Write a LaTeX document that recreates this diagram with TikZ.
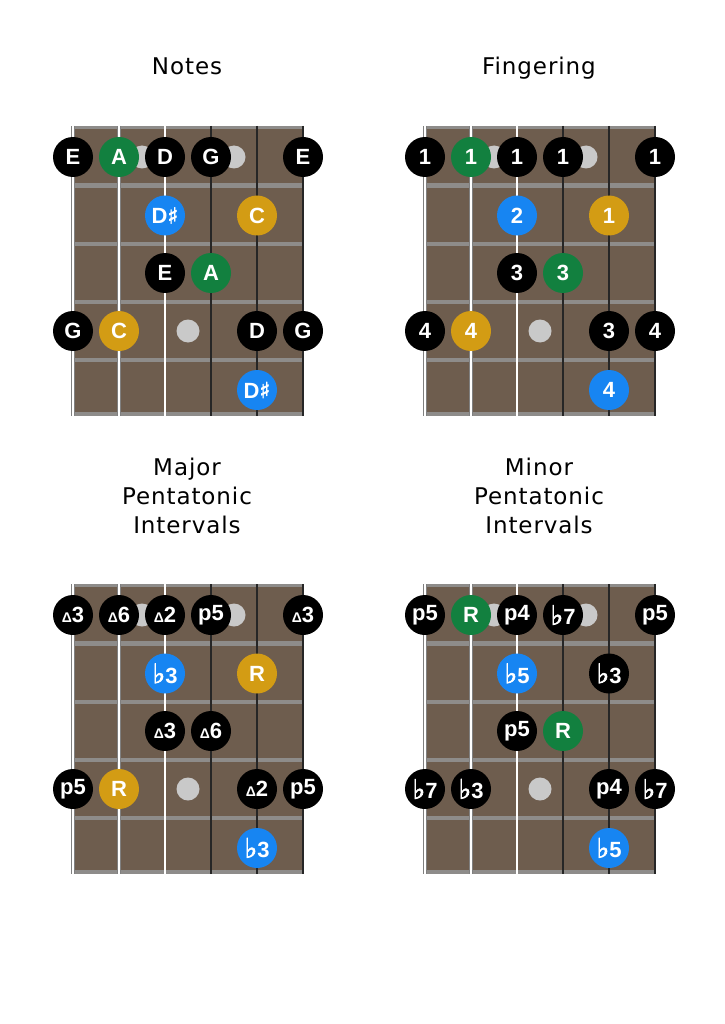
\documentclass[tikz,border=0pt]{standalone}
\usepackage{fontspec}
\setmainfont{DejaVu Sans}[LetterSpace=4]
\newfontfamily\notefont{Liberation Sans}
\newfontfamily\symfont{DejaVu Sans}[FakeBold=2.5]
\definecolor{fretbrown}{HTML}{6E5D4E}
\definecolor{fretgray}{HTML}{8E8C8A}
\definecolor{inlaygray}{HTML}{C9C9C9}
\definecolor{notegreen}{HTML}{12803F}
\definecolor{noteblue}{HTML}{1785F2}
\definecolor{notegold}{HTML}{D39C14}
\newcommand{\flatsym}{{\symfont\fontsize{27}{27}\selectfont ♭}}
\newcommand{\sharpsym}{{\symfont\fontsize{22}{22}\selectfont ♯}}
\newcommand{\trisym}{{\fontsize{14}{14}\selectfont Δ}}
\tikzset{
  board/.style={fill=fretbrown},
  fret/.style={draw=fretgray, line width=4.5pt},
  nut/.style={draw=fretgray, line width=2.5pt},
  inlay/.style={circle, fill=inlaygray, minimum size=23pt, inner sep=0pt},
  heavystr/.style={draw=gray, line width=4.5pt, postaction={draw=white, line width=2.6pt}},
  midstr/.style={draw=gray, line width=3.4pt, postaction={draw=white, line width=2pt}},
  thinstr/.style={draw=gray!60, line width=2.2pt, postaction={draw=white, line width=1.2pt}},
  darkstr/.style={draw=black!85, line width=1.1pt},
  note/.style={circle, minimum size=40pt, inner sep=0pt, text=white,
    font=\notefont\bfseries\fontsize{22}{22}\selectfont},
  blk/.style={note, fill=black},
  grn/.style={note, fill=notegreen},
  blu/.style={note, fill=noteblue},
  gld/.style={note, fill=notegold},
  heading/.style={align=center, anchor=base, font=\fontsize{23}{29}\selectfont}
}
\begin{document}
\begin{tikzpicture}[x=1pt, y=-1pt]
\useasboundingbox[fill=white] (0,0) rectangle (724,1024);
% titles
\node[heading] (tnotes) at (187,75) {Notes};
\node[heading] (tfinger) at (539,75) {Fingering};
\node[heading] (tmajor) at (187,533) {Major\\Pentatonic\\Intervals};
\node[heading] (tminor) at (539,533) {Minor\\Pentatonic\\Intervals};
% board 1 - notes
\fill[board] (73,126) rectangle (303,416);
\draw[nut] (73,127.5) -- (303,127.5);
\draw[fret] (73,185.5) -- (303,185.5);
\draw[fret] (73,244) -- (303,244);
\draw[fret] (73,302) -- (303,302);
\draw[fret] (73,360) -- (303,360);
\draw[fret] (73,414) -- (303,414);
\node[inlay] (noi1) at (142,157) {};
\node[inlay] (noi2) at (234,157) {};
\node[inlay] (noi3) at (188,331) {};
\draw[heavystr] (73,126) -- (73,416);
\draw[midstr] (119,126) -- (119,416);
\draw[thinstr] (165,126) -- (165,416);
\draw[darkstr] (211,126) -- (211,416);
\draw[darkstr] (257,126) -- (257,416);
\draw[darkstr] (303,126) -- (303,416);
\node[blk] (no11) at (73,157) {E};
\node[grn] (no12) at (119,157) {A};
\node[blk] (no13) at (165,157) {D};
\node[blk] (no14) at (211,157) {G};
\node[blk] (no16) at (303,157) {E};
\node[blu] (no23) at (165,215.5) {D\sharpsym};
\node[gld] (no25) at (257,215.5) {C};
\node[blk] (no33) at (165,273) {E};
\node[grn] (no34) at (211,273) {A};
\node[blk] (no41) at (73,331) {G};
\node[gld] (no42) at (119,331) {C};
\node[blk] (no45) at (257,331) {D};
\node[blk] (no46) at (303,331) {G};
\node[blu] (no55) at (257,390) {D\sharpsym};
% board 2 - fingering
\fill[board] (425,126) rectangle (655,416);
\draw[nut] (425,127.5) -- (655,127.5);
\draw[fret] (425,185.5) -- (655,185.5);
\draw[fret] (425,244) -- (655,244);
\draw[fret] (425,302) -- (655,302);
\draw[fret] (425,360) -- (655,360);
\draw[fret] (425,414) -- (655,414);
\node[inlay] (fii1) at (494,157) {};
\node[inlay] (fii2) at (586,157) {};
\node[inlay] (fii3) at (540,331) {};
\draw[heavystr] (425,126) -- (425,416);
\draw[midstr] (471,126) -- (471,416);
\draw[thinstr] (517,126) -- (517,416);
\draw[darkstr] (563,126) -- (563,416);
\draw[darkstr] (609,126) -- (609,416);
\draw[darkstr] (655,126) -- (655,416);
\node[blk] (fi11) at (425,157) {1};
\node[grn] (fi12) at (471,157) {1};
\node[blk] (fi13) at (517,157) {1};
\node[blk] (fi14) at (563,157) {1};
\node[blk] (fi16) at (655,157) {1};
\node[blu] (fi23) at (517,215.5) {2};
\node[gld] (fi25) at (609,215.5) {1};
\node[blk] (fi33) at (517,273) {3};
\node[grn] (fi34) at (563,273) {3};
\node[blk] (fi41) at (425,331) {4};
\node[gld] (fi42) at (471,331) {4};
\node[blk] (fi45) at (609,331) {3};
\node[blk] (fi46) at (655,331) {4};
\node[blu] (fi55) at (609,390) {4};
% board 3 - major pentatonic intervals
\fill[board] (73,584) rectangle (303,874);
\draw[nut] (73,585.5) -- (303,585.5);
\draw[fret] (73,643.5) -- (303,643.5);
\draw[fret] (73,702) -- (303,702);
\draw[fret] (73,760) -- (303,760);
\draw[fret] (73,818) -- (303,818);
\draw[fret] (73,872) -- (303,872);
\node[inlay] (mai1) at (142,615) {};
\node[inlay] (mai2) at (234,615) {};
\node[inlay] (mai3) at (188,789) {};
\draw[heavystr] (73,584) -- (73,874);
\draw[midstr] (119,584) -- (119,874);
\draw[thinstr] (165,584) -- (165,874);
\draw[darkstr] (211,584) -- (211,874);
\draw[darkstr] (257,584) -- (257,874);
\draw[darkstr] (303,584) -- (303,874);
\node[blk] (ma11) at (73,615) {\trisym3};
\node[blk] (ma12) at (119,615) {\trisym6};
\node[blk] (ma13) at (165,615) {\trisym2};
\node[blk] (ma14) at (211,615) {p5};
\node[blk] (ma16) at (303,615) {\trisym3};
\node[blu] (ma23) at (165,673.5) {\flatsym3};
\node[gld] (ma25) at (257,673.5) {R};
\node[blk] (ma33) at (165,731) {\trisym3};
\node[blk] (ma34) at (211,731) {\trisym6};
\node[blk] (ma41) at (73,789) {p5};
\node[gld] (ma42) at (119,789) {R};
\node[blk] (ma45) at (257,789) {\trisym2};
\node[blk] (ma46) at (303,789) {p5};
\node[blu] (ma55) at (257,848) {\flatsym3};
% board 4 - minor pentatonic intervals
\fill[board] (425,584) rectangle (655,874);
\draw[nut] (425,585.5) -- (655,585.5);
\draw[fret] (425,643.5) -- (655,643.5);
\draw[fret] (425,702) -- (655,702);
\draw[fret] (425,760) -- (655,760);
\draw[fret] (425,818) -- (655,818);
\draw[fret] (425,872) -- (655,872);
\node[inlay] (mii1) at (494,615) {};
\node[inlay] (mii2) at (586,615) {};
\node[inlay] (mii3) at (540,789) {};
\draw[heavystr] (425,584) -- (425,874);
\draw[midstr] (471,584) -- (471,874);
\draw[thinstr] (517,584) -- (517,874);
\draw[darkstr] (563,584) -- (563,874);
\draw[darkstr] (609,584) -- (609,874);
\draw[darkstr] (655,584) -- (655,874);
\node[blk] (mi11) at (425,615) {p5};
\node[grn] (mi12) at (471,615) {R};
\node[blk] (mi13) at (517,615) {p4};
\node[blk] (mi14) at (563,615) {\flatsym7};
\node[blk] (mi16) at (655,615) {p5};
\node[blu] (mi23) at (517,673.5) {\flatsym5};
\node[blk] (mi25) at (609,673.5) {\flatsym3};
\node[blk] (mi33) at (517,731) {p5};
\node[grn] (mi34) at (563,731) {R};
\node[blk] (mi41) at (425,789) {\flatsym7};
\node[blk] (mi42) at (471,789) {\flatsym3};
\node[blk] (mi45) at (609,789) {p4};
\node[blk] (mi46) at (655,789) {\flatsym7};
\node[blu] (mi55) at (609,848) {\flatsym5};
\end{tikzpicture}
\end{document}
